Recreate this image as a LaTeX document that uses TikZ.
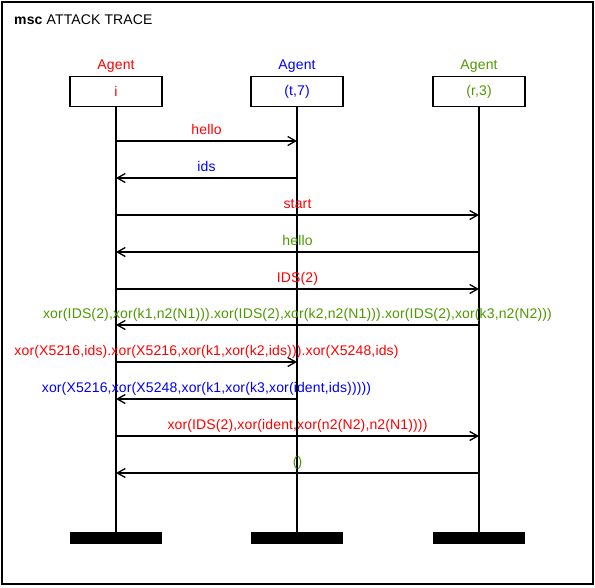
\documentclass[tikz,border=0pt]{standalone}
\usepackage{fontspec}
\setmainfont[LetterSpace=1]{Liberation Sans}
\usetikzlibrary{arrows.meta,calc}
\definecolor{agred}{RGB}{255,0,0}
\definecolor{agblue}{RGB}{0,0,255}
\definecolor{aggreen}{RGB}{77,153,0}
\begin{document}
\begin{tikzpicture}[x=1pt,y=-1pt,
  txt/.style={font=\fontsize{14}{16}\selectfont,inner sep=0pt},
  headbox/.style={draw,line width=1.3pt,minimum width=92pt,minimum height=30pt,inner sep=0pt,font=\fontsize{14}{16}\selectfont},
  agentlbl/.style={txt,anchor=base},
  endbar/.style={fill=black,minimum width=92pt,minimum height=12pt,inner sep=0pt},
  life/.style={line width=1.3pt},
  msg/.style={line width=1.3pt,-{Straight Barb[length=8pt,width=9pt,line width=1.3pt]}},
  msglbl/.style={txt,anchor=base}]
\useasboundingbox (0,0) rectangle (595,587);
\draw[line width=1.6pt] (2,2) rectangle (593,584);
\node[txt,anchor=base west] (title) at (14,24) {\textbf{msc} ATTACK TRACE};
% agents
\node[agentlbl,text=agred] (la) at (116,69) {Agent};
\node[agentlbl,text=agblue] (lb) at (297,69) {Agent};
\node[agentlbl,text=aggreen] (lc) at (479,69) {Agent};
\node[headbox,text=agred] (A) at (116,91.5) {i};
\node[headbox,text=agblue] (B) at (297,91.5) {(t,7)};
\node[headbox,text=aggreen] (C) at (479,91.5) {(r,3)};
\node[endbar] (Ae) at (116,538) {};
\node[endbar] (Be) at (297,538) {};
\node[endbar] (Ce) at (479,538) {};
\draw[life] (A.south) -- (Ae.north);
\draw[life] (B.south) -- (Be.north);
\draw[life] (C.south) -- (Ce.north);
% messages
\foreach \n/\y in {1/141,2/178,3/215,4/252,5/289,6/325,7/362,8/399,9/436,10/473}{
  \coordinate (a\n) at (116,\y);
  \coordinate (b\n) at (297,\y);
  \coordinate (c\n) at (479,\y);
}
\draw[msg] (a1) -- (b1);
\node[msglbl,text=agred] (m1) at ([yshift=7pt]$(a1)!0.5!(b1)$) {hello};
\draw[msg] (b2) -- (a2);
\node[msglbl,text=agblue] (m2) at ([yshift=7pt]$(a2)!0.5!(b2)$) {ids};
\draw[msg] (a3) -- (c3);
\node[msglbl,text=agred] (m3) at ([yshift=7pt]$(a3)!0.5!(c3)$) {start};
\draw[msg] (c4) -- (a4);
\node[msglbl,text=aggreen] (m4) at ([yshift=7pt]$(a4)!0.5!(c4)$) {hello};
\draw[msg] (a5) -- (c5);
\node[msglbl,text=agred] (m5) at ([yshift=7pt]$(a5)!0.5!(c5)$) {IDS(2)};
\draw[msg] (c6) -- (a6);
\node[msglbl,text=aggreen] (m6) at ([yshift=7pt]$(a6)!0.5!(c6)$) {xor(IDS(2),xor(k1,n2(N1))).xor(IDS(2),xor(k2,n2(N1))).xor(IDS(2),xor(k3,n2(N2)))};
\draw[msg] (a7) -- (b7);
\node[msglbl,text=agred] (m7) at ([yshift=7pt]$(a7)!0.5!(b7)$) {xor(X5216,ids).xor(X5216,xor(k1,xor(k2,ids))).xor(X5248,ids)};
\draw[msg] (b8) -- (a8);
\node[msglbl,text=agblue] (m8) at ([yshift=7pt]$(a8)!0.5!(b8)$) {xor(X5216,xor(X5248,xor(k1,xor(k3,xor(ident,ids)))))};
\draw[msg] (a9) -- (c9);
\node[msglbl,text=agred] (m9) at ([yshift=7pt]$(a9)!0.5!(c9)$) {xor(IDS(2),xor(ident,xor(n2(N2),n2(N1))))};
\draw[msg] (c10) -- (a10);
\node[msglbl,text=aggreen] (m10) at ([yshift=7pt]$(a10)!0.5!(c10)$) {()};
\end{tikzpicture}
\end{document}
